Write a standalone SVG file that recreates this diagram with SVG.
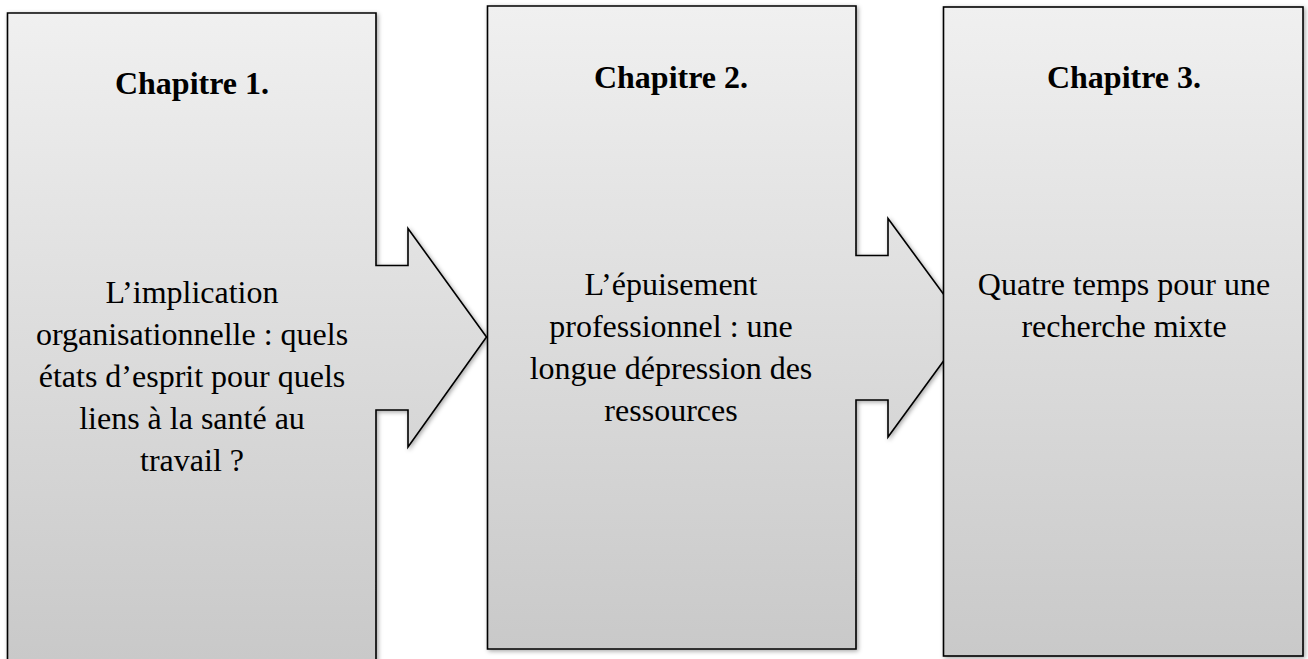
<svg xmlns="http://www.w3.org/2000/svg" width="1308" height="659" viewBox="0 0 1308 659">
<style>
.shape{stroke:#000;stroke-width:1.6;stroke-linejoin:miter;filter:url(#sh)}
.title{font-family:"Liberation Serif","Times New Roman",serif;font-weight:bold;font-size:32px;text-anchor:middle;fill:#000}
.body{font-family:"Liberation Serif","Times New Roman",serif;font-size:32px;text-anchor:middle;fill:#000}
</style>
<defs>
<linearGradient id="g1" gradientUnits="userSpaceOnUse" x1="0" y1="13" x2="0" y2="659">
<stop offset="0" stop-color="#f0f0f0"/><stop offset="1" stop-color="#c9c9c9"/>
</linearGradient>
<linearGradient id="g2" gradientUnits="userSpaceOnUse" x1="0" y1="6" x2="0" y2="649">
<stop offset="0" stop-color="#f0f0f0"/><stop offset="1" stop-color="#c9c9c9"/>
</linearGradient>
<linearGradient id="g3" gradientUnits="userSpaceOnUse" x1="0" y1="7" x2="0" y2="656">
<stop offset="0" stop-color="#f0f0f0"/><stop offset="1" stop-color="#c9c9c9"/>
</linearGradient>
<filter id="sh" x="-10%" y="-10%" width="120%" height="120%">
<feDropShadow dx="1.5" dy="1.5" stdDeviation="2" flood-color="#000" flood-opacity="0.35"/>
</filter>
</defs>
<g id="connectors"></g>
<g id="node1">
<path class="shape" fill="url(#g1)" d="M7.5,13 H376 V265.5 H408 V228.5 L486.5,337 L408,447 V410 H376 V680 H7.5 Z"/>
<text class="title" x="192" y="94">Chapitre 1.</text>
<text class="body" x="192" y="303">L’implication</text>
<text class="body" x="192" y="345">organisationnelle : quels</text>
<text class="body" x="192" y="387">états d’esprit pour quels</text>
<text class="body" x="192" y="429">liens à la santé au</text>
<text class="body" x="192" y="471">travail ?</text>
</g>
<g id="node2">
<path class="shape" fill="url(#g2)" d="M487.5,6 H856 V255.5 H888 V218.5 L968,327.5 L888,437 V400 H856 V649 H487.5 Z"/>
<text class="title" x="671" y="88">Chapitre 2.</text>
<text class="body" x="671" y="295">L’épuisement</text>
<text class="body" x="671" y="337">professionnel : une</text>
<text class="body" x="671" y="379">longue dépression des</text>
<text class="body" x="671" y="421">ressources</text>
</g>
<g id="node3">
<rect class="shape" fill="url(#g3)" x="943.5" y="7" width="359.5" height="649"/>
<text class="title" x="1124" y="88">Chapitre 3.</text>
<text class="body" x="1124" y="295">Quatre temps pour une</text>
<text class="body" x="1124" y="337">recherche mixte</text>
</g>
</svg>
